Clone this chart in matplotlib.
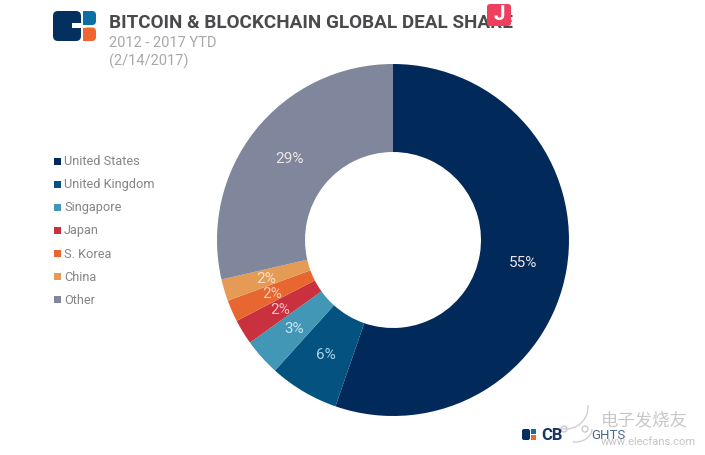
import matplotlib
matplotlib.use("Agg")
import matplotlib.pyplot as plt
from matplotlib.patches import FancyBboxPatch, Rectangle, Circle, Arc

# chart values
countries = ["United States", "United Kingdom", "Singapore", "Japan", "S. Korea", "China", "Other"]
slice_sizes = [55.3, 6.4, 3.4, 2.3, 2.0, 2.0, 28.6]
pct_labels = ["55%", "6%", "3%", "2%", "2%", "2%", "29%"]
colors = ["#012a5a", "#04527f", "#4197b5", "#c8313d", "#e8662f", "#e59a55", "#80869b"]
label_colors = ["#e8e6ea", "#a9d6ea", "#c9e6f0", "#f7c4c8", "#fbd0b8", "#fbe3c8", "#efe9e6"]

W, H = 705, 456
plt.rcParams["font.family"] = ["Roboto", "DejaVu Sans"]
fig = plt.figure(figsize=(W / 100, H / 100), dpi=100, facecolor="white")

# donut, placed by pixels
cx, cy, r = 393, 241, 176
pie_ax = fig.add_axes([(cx - r) / W, 1 - (cy + r) / H, 2 * r / W, 2 * r / H])
wedges, texts = pie_ax.pie(slice_sizes, colors=colors, startangle=90, counterclock=False, radius=1,
                           wedgeprops=dict(width=0.5, linewidth=0),
                           labels=pct_labels, labeldistance=0.75,
                           textprops=dict(fontsize=11, ha="center", va="center"))
for t, c in zip(texts, label_colors):
    t.set_color(c)
pie_ax.set_xlim(-1, 1)
pie_ax.set_ylim(-1, 1)

# overlay in image pixels for header, legend and logos
ax = fig.add_axes([0, 0, 1, 1], zorder=3)
ax.set_xlim(0, W)
ax.set_ylim(H, 0)
ax.axis("off")

ax.text(109, 23, "BITCOIN & BLOCKCHAIN GLOBAL DEAL SHARE", fontsize=13.6, fontweight="bold",
        color="#4a4a4d", va="center", ha="left")
ax.text(109, 43, "2012 - 2017 YTD", fontsize=10.5, color="#a8a8a8", va="center")
ax.text(109, 61, "(2/14/2017)", fontsize=10.5, color="#a8a8a8", va="center")

# legend
legend_y = [162, 185, 208, 231, 254.5, 277.5, 300.5]
for name, col, y in zip(countries, colors, legend_y):
    ax.add_patch(Rectangle((54, y - 3.5), 7, 7, color=col, lw=0))
    ax.text(64, y, name, fontsize=9.2, color="#858585", va="center")

# CB logo top left
ax.add_patch(FancyBboxPatch((53, 12), 28, 30, boxstyle="round,pad=0,rounding_size=5",
                            fc="#04305f", lw=0))
ax.add_patch(Rectangle((72, 23.5), 10, 5.5, fc="white", lw=0))
ax.add_patch(FancyBboxPatch((83, 12), 13, 14, boxstyle="round,pad=0,rounding_size=4",
                            fc="#0c6ea3", lw=0))
ax.add_patch(Rectangle((83, 12), 5, 14, fc="#0c6ea3", lw=0))
ax.add_patch(FancyBboxPatch((83, 28.5), 13, 13.5, boxstyle="round,pad=0,rounding_size=4",
                            fc="#f0652f", lw=0))
ax.add_patch(Rectangle((83, 28.5), 5, 13.5, fc="#f0652f", lw=0))

# pink badge sitting over the title
ax.add_patch(FancyBboxPatch((487, 5), 24, 22, boxstyle="round,pad=0,rounding_size=3",
                            fc="#ee3f5e", lw=0, zorder=4))
ax.text(499, 15, "J", fontsize=15, fontweight="bold", color="white", ha="center", va="center", zorder=5)

# CB INSIGHTS logo bottom right
ax.add_patch(FancyBboxPatch((522, 430), 8, 11, boxstyle="round,pad=0,rounding_size=2", fc="#04305f", lw=0))
ax.add_patch(Rectangle((531, 430), 5, 5, fc="#0c6ea3", lw=0))
ax.add_patch(Rectangle((531, 436), 5, 5, fc="#f0652f", lw=0))
ax.text(541, 436, "CB", fontsize=12, fontweight="bold", color="#17355e", va="center")
ax.text(591, 436, "GHTS", fontsize=9.5, color="#4a6a8a", va="center")

# watermark
ax.add_patch(Circle((564, 430), 3, fill=False, ec="#cccccc", lw=1))
ax.add_patch(Circle((585, 430), 3, fill=False, ec="#cccccc", lw=1))
ax.add_patch(Arc((566, 408), 44, 44, theta1=-5, theta2=100, ec="#d0d0d0", lw=1, angle=0))
ax.add_patch(Arc((575, 430), 34, 26, theta1=0, theta2=100, ec="#d0d0d0", lw=1))
ax.text(601, 420, "电子发烧友", fontsize=12.5, style="italic", color="#c8c8c8", va="center",
        family=["Noto Sans CJK SC", "DejaVu Sans"])
ax.text(601, 442, "www.elecfans.com", fontsize=8, color="#c4c4c4", va="center")

fig.savefig("out.png", dpi=100, facecolor="white")
